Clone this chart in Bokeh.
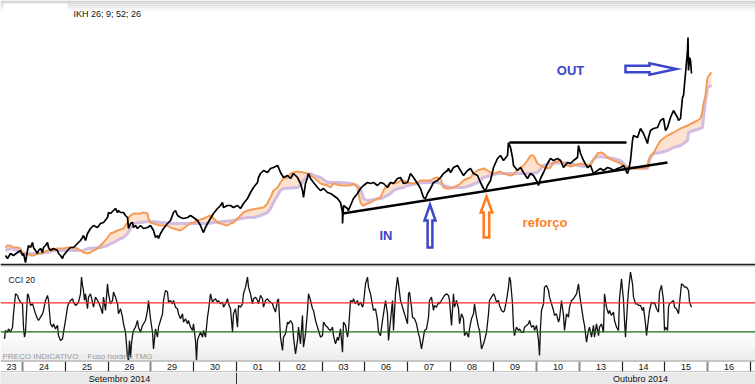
from bokeh.plotting import figure
from bokeh.layouts import column
from bokeh.models import Range1d, BoxAnnotation, Label, Span
from bokeh.embed import file_html
from bokeh.resources import INLINE

# ---------------- data (x = intraday bar index) ----------------
price_pts = [(5,8),(7,5),(10,10),(13,8),(17,11),(20,13),(22,8),(23,10),(25,1),(27,13),(28,18),(30,16),(32,21),(33,16),(35,13),(37,10),(38,13),(40,15),(42,11),(43,16),(45,18),(47,21),(48,16),(50,13),(53,15),(57,13),(58,10),(60,8),(62,5),(63,8),(67,13),(70,16),(73,16),(77,20),(80,23),(82,26),(83,28),(85,23),(87,30),(90,35),(93,38),(97,36),(100,40),(103,41),(107,46),(108,51),(110,50),(113,53),(115,55),(117,51),(118,53),(120,51),(123,51),(125,48),(127,46),(128,35),(130,40),(132,41),(133,36),(135,38),(137,35),(140,38),(143,35),(147,36),(150,38),(153,33),(155,26),(157,28),(158,25),(160,30),(163,35),(167,40),(170,43),(173,51),(175,53),(177,48),(180,46),(183,45),(187,46),(190,48),(193,46),(197,43),(200,38),(202,33),(203,31),(205,36),(207,40),(210,45),(213,50),(217,55),(220,58),(222,61),(223,56),(227,58),(230,58),(233,56),(237,58),(240,55),(243,60),(247,65),(250,71),(253,76),(257,81),(258,86),(260,90),(263,93),(267,91),(270,95),(273,96),(277,98),(278,96),(280,91),(283,86),(287,88),(290,85),(293,90),(297,86),(300,80),(302,73),(303,66),(305,80),(307,86),(308,90),(310,85),(313,81),(317,76),(320,73),(323,75),(327,71),(330,70),(333,68),(337,65),(340,61),
             (342,51),(342,40),(343,58),(347,55),(348,53),(350,58),(353,65),(357,70),(360,75),(363,78),(367,81),(370,80),(373,81),(377,78),(380,81),(383,80),(387,76),(390,81),(393,80),(397,85),(400,86),(403,80),(407,81),(410,90),(413,86),(417,80),(420,75),(423,66),(425,65),(427,70),(430,75),(433,81),(437,83),(440,86),(443,90),(447,93),(448,95),(450,91),(453,96),(457,98),(460,93),(463,88),(467,93),(470,95),(473,90),(477,88),(480,81),(483,75),(485,73),(487,78),(490,83),(493,96),(497,105),(500,108),(503,103),(507,108),(508,121),(510,116),(512,106),(513,98),(517,93),(520,96),(523,91),(527,85),(530,90),(533,88),(537,81),(538,78),(540,85),(543,91),(547,100),(550,105),(553,103),(557,105),(560,103),(563,96),(567,101),(570,100),(573,103),(577,106),(578,118),(580,110),(583,103),(587,96),(590,98),
             (593,90),(597,93),(600,95),(603,93),(607,96),(610,95),(613,93),(617,95),(620,96),(623,98),(627,90),(628,93),(630,103),(632,123),(633,128),(637,126),(640,135),(643,130),(647,120),(648,126),(650,133),(653,135),(657,136),(660,143),(663,145),(665,133),(667,136),(670,146),(673,153),(677,146),(678,143),(680,145),(682,166),(683,168),(685,190),(687,213),(687.5,226),(688,193),(689,206),(690,203),(691,190)]

span_a_pts = [(5,16),(7,18),(10,18),(13,16),(17,16),(20,15),(22,10),(23,8),(27,10),(30,8),(33,8),(37,10),(40,10),(43,11),(47,13),(50,15),(53,13),(57,15),(63,15),(67,16),(73,16),(77,15),(80,13),(83,11),(87,10),(90,11),(93,13),(97,15),(100,18),(103,21),(107,26),(110,30),(113,31),(117,33),(123,35),(127,41),(128,46),(130,48),(133,50),(140,50),(143,51),(147,50),(148,45),(150,41),(153,40),(160,38),(167,38),(170,36),(173,35),(180,33),(183,35),(187,38),(190,40),(193,41),(197,43),(203,45),(210,48),(213,45),(217,41),(220,40),(227,38),(230,40),(233,41),(237,45),(240,48),(243,51),(247,53),(257,55),(263,56),(267,60),(268,63),(270,66),(273,73),(277,76),(280,81),(283,85),(287,86),(290,90),(293,91),(297,92),(303,91),(307,90),(310,88),(313,86),(317,83),(320,80),(327,78),(330,76),(333,80),(340,78),(350,78),(353,80),(357,76),(358,70),(360,61),(362,58),(363,58),(367,60),(370,61),(377,65),(380,66),(383,73),(385,76),(387,78),(390,81),(393,80),(397,81),(400,83),(403,83),(407,81),(413,80),(417,81),(420,83),(430,83),(433,85),(437,86),(440,85),(443,76),(447,75),(450,75),(453,76),(457,78),(460,80),(463,83),(467,85),(470,86),(473,90),(477,93),(483,95),(487,93),(490,91),(493,90),(500,92),(503,90),(507,89),(510,88),(513,89),(517,94),(520,96),(523,98),(527,103),(530,108),(533,108),(537,100),(540,98),(547,95),(550,96),(553,101),(557,102),(560,103),(563,100),(567,98),(570,97),(577,99),(580,100),(587,98),(590,99),(593,104),(597,110),(600,111),(603,110),(607,106),(613,103),(620,100),(627,96),(633,95),(640,95),(647,96),(648,103),(650,108),(653,110),(657,118),(660,123),(667,128),(673,131),(680,135),(687,138),(693,141),(697,143),(700,145),(702,153),(703,160),(705,168),(707,186),(710,190),(711,191)]

span_b_pts = [(5,13),(10,15),(17,13),(20,11),(27,10),(40,10),(47,11),(53,13),(83,13),(87,15),(100,16),(107,18),(113,21),(120,25),(123,26),(127,30),(130,35),(133,40),(140,41),(147,42),(153,42),(160,41),(173,40),(207,40),(213,41),(233,43),(240,45),(247,46),(253,46),(260,48),(267,51),(270,55),(273,61),(277,68),(280,73),(283,75),(297,76),(300,78),(303,83),(307,88),(310,90),(313,88),(320,86),(327,81),(340,81),(350,80),(357,78),(360,75),(363,65),(367,63),(380,65),(383,66),(387,68),(390,70),(393,73),(397,75),(403,76),(407,78),(417,80),(423,81),(437,81),(440,80),(443,78),(450,76),(463,76),(470,78),(477,81),(483,86),(490,88),(497,90),(530,90),(537,91),(543,98),(550,100),(563,101),(570,100),(583,97),(590,99),(593,104),(597,107),(607,106),(613,105),(620,103),(627,96),(647,95),(648,100),(650,106),(653,110),(660,111),(667,113),(673,116),(680,118),(687,123),(688,131),(693,133),(700,135),(702,136),(703,146),(705,163),(707,176),(711,178)]

cci_pts = [(4,-149),(5,-91),(7,-103),(8,-80),(10,-103),(12,-68),(13,24),(15,162),(17,151),(18,128),(20,105),(22,93),(23,-68),(24,-137),(25,-103),(27,162),(28,151),(30,82),(32,93),(33,70),(35,24),(37,-10),(38,-22),(40,1),(42,24),(43,47),(45,116),(47,151),(48,116),(50,-45),(52,-68),(53,-45),(55,-80),(57,-56),(58,-126),(60,-160),(62,-149),(63,-103),(65,-22),(67,70),(68,93),(70,116),(72,128),(73,105),(75,82),(77,93),(78,105),(80,162),(81,277),(82,220),(83,185),(84,116),(85,162),(87,59),(88,139),(90,162),(92,105),(93,70),(95,139),(97,116),(98,105),(100,70),(102,24),(103,139),(105,47),(107,231),(108,162),(110,93),(112,116),(113,174),(115,139),(117,93),(118,24),(120,59),(122,1),(123,-45),(125,-103),(127,-275),(128,-298),(129,-160),(130,-275),(131,-183),(132,-126),(133,-91),(135,-68),(137,-22),(138,-68),(140,-103),(142,-56),(143,-45),(145,-22),(147,47),(148,116),(150,-10),(152,-103),(153,-218),(155,-80),(157,-137),(158,-68),(160,-22),(162,24),(163,116),(165,185),(167,174),(168,105),(170,116),(172,93),(173,116),(175,70),(177,59),(178,24),(180,-10),(182,24),(183,-33),(185,-10),(187,-45),(188,-22),(190,-68),(192,-91),(193,-45),(195,-160),(196,-298),(197,-160),(198,-137),(200,-103),(202,-137),(203,-91),(205,-137),(207,1),(208,47),(210,162),(212,105),(213,116),(215,128),(217,105),(218,116),(220,93),(222,105),(223,70),(225,93),(227,128),(228,93),(230,59),(232,-103),(233,24),(235,59),(237,-68),(238,82),(240,70),(242,93),(243,162),(245,208),(247,277),(248,208),(250,162),(252,93),(253,128),(255,139),(257,116),(258,93),(260,151),(262,128),(263,70),(265,116),(267,128),(268,116),(270,105),(272,93),(273,70),(275,36),(277,116),(278,128),(280,-137),(282,-229),(283,-137),(285,-114),(287,-33),(288,-45),(290,-22),(292,-45),(293,-137),(295,-252),(297,-160),(298,-68),(300,-183),(302,13),(303,-206),(305,-114),(307,47),(308,162),(310,116),(312,59),(313,47),(315,-22),(317,-68),(318,-91),(320,-137),(322,-126),(323,-33),(325,-56),(327,-68),(328,-80),(330,-91),(332,-68),(333,-126),(335,-183),(337,-137),(338,-160),(340,-80),(342,-241),(343,-33),(345,-56),(347,-137),(348,-91),(350,116),(352,105),(353,128),(355,93),(357,116),(358,82),(360,105),(362,70),(363,93),(365,231),(367,277),(368,208),(370,162),(372,82),(373,47),
           (375,59),(377,-22),(378,-103),(380,-126),(382,-22),(383,24),(385,116),(387,24),(388,-160),(390,-22),(392,116),(393,-91),(395,162),(397,277),(398,231),(400,116),(402,70),(403,47),(405,1),(407,-45),(408,162),(409,174),(411,70),(412,1),(414,-10),(416,-45),(418,-114),(419,-137),(421,-218),(423,-137),(424,-91),(426,-80),(428,1),(429,116),(431,139),(433,47),(434,82),(436,70),(438,105),(439,93),(441,116),(443,139),(444,151),(446,162),(448,151),(449,116),(451,-56),(453,162),(454,70),(456,116),(458,59),(459,-45),(461,24),(463,-10),(464,-126),(466,-103),(468,-137),(469,-80),(471,-10),(473,24),(474,93),(476,1),(478,-68),(479,-91),(481,-218),(483,-183),(484,-160),(486,-103),(488,24),(489,116),(491,139),(493,162),(494,151),(496,105),(498,116),(499,82),(501,47),(503,36),(504,47),(506,116),(508,208),(509,277),(510,254),(512,93),(513,-68),(514,-126),(516,-68),(518,-91),(519,-80),(521,-103),(523,-103),(524,-68),(526,-56),(528,-45),(529,-22),(531,-68),(533,-56),(534,-91),(536,-56),(538,-160),(539,-264),(540,-68),(541,47),(543,93),(544,208),(546,220),(548,185),(549,139),(551,93),(553,47),(554,13),(556,24),(558,-33),(559,-10),(561,116),(563,13),(564,-91),(566,24),(568,1),(569,70),(571,116),(573,128),(574,139),(576,162),(578,231),(579,162),(581,70),(583,-22),(584,-56),(586,-172),(588,-91),(589,-68),(591,-137),(593,-56),(594,-137),(596,-45),(598,-126),(599,-68),(601,-45),(603,-103),(604,162),(606,70),(608,24),(609,47),(611,13),(613,36),(614,-22),(616,-68),(618,-91),(619,128),(621,266),(623,116),(624,-22),(625,-137),(627,93),(628,185),(630,312),(632,231),(633,139),(635,93),(637,93),(638,82),(640,82),(642,47),(643,70),(645,-45),(646,-126),(648,-10),(649,47),(651,105),(653,93),(654,105),(656,59),(658,36),(659,174),(661,220),(663,116),(664,-91),(665,-68),(667,-91),(668,70),(669,93),(671,105),(673,116),(674,70),(676,59),(678,24),(679,93),(681,231),(683,220),(684,208),(686,208),(688,185),(689,105),(691,70)]

day_labels = ["23","24","25","26","29","30","01","02","03","06","07","08","09","10","13","14","15","16"]
day_bounds = [22, 65, 108, 150, 193, 236, 279, 322, 364, 407, 450, 493, 536, 579, 622, 664, 707, 750]
bound_soft = [True, False, False, True, False, False, False, False, False, False, False, False, True, True, False, False, True, False]
month_labels = ["Setembro 2014", "Outubro 2014"]
month_label_x = [119, 640]
month_bound = 236

cci_upper, cci_lower = 100, -100
support_line = ((342, 50), (667, 101))
resistance_line = ((509, 121), (626, 121))

# ---------------- style ----------------
W = 755
FONT = "Liberation Sans"
BLUE = "#3b46c8"
ORANGE_TXT = "#ff7f27"
SPAN_A = "#f49d58"
SPAN_B = "#d2bde0"
CLOUD = "#fde2cf"

xr = Range1d(0, W)


def base(h, y0, y1, bg="white"):
    p = figure(width=W, height=h, x_range=xr, y_range=Range1d(y0, y1),
               output_backend="svg", toolbar_location=None, min_border=0,
               x_axis_type=None, y_axis_type=None)
    p.grid.visible = False
    p.outline_line_color = None
    p.background_fill_color = bg
    p.border_fill_color = bg
    return p


def unzip(pts):
    return [a for a, _ in pts], [b for _, b in pts]


def arrow_poly(tail, tip, shaft, head, head_len):
    (x0, y0), (x1, y1) = tail, tip
    dx, dy = x1 - x0, y1 - y0
    L = (dx * dx + dy * dy) ** 0.5
    ux, uy = dx / L, dy / L
    px, py = -uy, ux
    nx, ny = x1 - ux * head_len, y1 - uy * head_len
    pts = [(x0 + px * shaft, y0 + py * shaft), (nx + px * shaft, ny + py * shaft),
           (nx + px * head, ny + py * head), (x1, y1),
           (nx - px * head, ny - py * head), (nx - px * shaft, ny - py * shaft),
           (x0 - px * shaft, y0 - py * shaft)]
    return [a for a, _ in pts], [b for _, b in pts]


# ---------------- price panel ----------------
p1 = base(263, 0, 263)
for top, bot, col in [(263, 261, "#d0d0d0"), (261, 259, "#dadada"), (259, 257, "#e3e3e3"),
                      (257, 255, "#ececec"), (255, 253, "#f5f5f5")]:
    p1.add_layout(BoxAnnotation(top=top, bottom=bot, fill_color=col, fill_alpha=1,
                                line_alpha=0, level="underlay"))
p1.add_layout(BoxAnnotation(left=3, right=67, top=260, bottom=252, fill_color="white",
                            fill_alpha=1, line_alpha=0, level="underlay"))
p1.add_layout(Label(x=73, y=249.5, text="IKH 26; 9; 52; 26", text_font=FONT,
                    text_font_size="9px", text_baseline="middle", text_color="#111111"))

ax, av = unzip(span_a_pts)
bx, bv = unzip(span_b_pts)
p1.patch(ax + bx[::-1], av + bv[::-1], fill_color=CLOUD, fill_alpha=1.0, line_color=None)
p1.line(bx, bv, line_color=SPAN_B, line_width=3)
p1.line(ax, av, line_color=SPAN_A, line_width=2)

cx, cv = unzip(price_pts)
p1.line(cx, cv, line_color="black", line_width=1.7)

for (xa, ya), (xb, yb) in [support_line, resistance_line]:
    p1.line([xa, xb], [ya, yb], line_color="black", line_width=2.4)

arrows = [((429.5, 16), (429.5, 59), 2.4, 5.5, 16, BLUE),
          ((486, 26), (486, 67), 2.8, 5.8, 16, "#ff7b22"),
          ((625, 194.5), (676, 194.5), 3.2, 5.8, 27, BLUE)]
for tail, tip, sw, hw, hl, col in arrows:
    xs, ys = arrow_poly(tail, tip, sw, hw, hl)
    p1.patch(xs, ys, fill_color="white", line_color=col, line_width=2.5, line_join="miter")

for x, y, t, col in [(570, 193, "OUT", BLUE), (385.5, 28, "IN", BLUE), (544.5, 41, "reforço", ORANGE_TXT)]:
    p1.add_layout(Label(x=x, y=y, text=t, text_font=FONT, text_font_size="13px",
                        text_font_style="bold", text_color=col, text_align="center",
                        text_baseline="middle"))

# ---------------- CCI panel ----------------
p2 = base(97, -298, 371)
for top, bot, col in [(-100, -160, "#fbfbfb"), (-160, -210, "#f7f7f7"),
                      (-210, -255, "#f2f2f2"), (-255, -298, "#ededed")]:
    p2.add_layout(BoxAnnotation(top=top, bottom=bot, fill_color=col, fill_alpha=1,
                                line_alpha=0, level="underlay"))
p2.add_layout(BoxAnnotation(top=371, bottom=357.2, fill_color="#1c1c1c", fill_alpha=1,
                            line_alpha=0))
p2.add_layout(BoxAnnotation(top=357.2, bottom=350.3, fill_color="#bdbdbd", fill_alpha=1,
                            line_alpha=0))
p2.add_layout(Span(location=cci_upper, dimension="width", line_color="#ff2a2a", line_width=1.2))
p2.add_layout(Span(location=cci_lower, dimension="width", line_color="#1a6e1a", line_width=1.2))
ix, iv = unzip(cci_pts)
p2.line(ix, iv, line_color="#111111", line_width=1.3)
p2.add_layout(Label(x=8, y=259, text="CCI 20", text_font=FONT, text_font_size="8.5px",
                    text_baseline="middle", text_color="#111111"))
p2.add_layout(Label(x=2, y=-268, text="PREÇO INDICATIVO", text_font=FONT,
                    text_font_size="8px", text_baseline="middle", text_color="#9a9a9a"))
p2.add_layout(Label(x=87, y=-268, text="Fuso horário TMG", text_font=FONT,
                    text_font_size="8px", text_baseline="middle", text_color="#9a9a9a"))

# ---------------- day axis ----------------
p3 = base(12, 0, 1)
p3.min_border_top = 1
p3.min_border_bottom = 1
p3.border_fill_color = "#1a1a1a"
edges = [0] + day_bounds
centers = [(a + b) / 2 for a, b in zip(edges[:-1], edges[1:])]
p3.segment(x0=[b for b, s in zip(day_bounds, bound_soft) if not s],
           x1=[b for b, s in zip(day_bounds, bound_soft) if not s],
           y0=0, y1=1, line_color="#222222", line_width=1.2)
p3.segment(x0=[b for b, s in zip(day_bounds, bound_soft) if s],
           x1=[b for b, s in zip(day_bounds, bound_soft) if s],
           y0=0, y1=1, line_color="#8a8a8a", line_width=2)
for c, t in zip(centers, day_labels):
    p3.add_layout(Label(x=c, y=0.5, text=t, text_font=FONT, text_font_size="9px",
                        text_align="center", text_baseline="middle", text_color="#111111"))

# ---------------- month axis ----------------
p4 = base(12, 0, 1, bg="#e9e9e9")
p4.segment(x0=[month_bound], x1=[month_bound], y0=0, y1=1, line_color="#333333", line_width=1)
for x, t in zip(month_label_x, month_labels):
    p4.add_layout(Label(x=x, y=0.5, text=t, text_font=FONT, text_font_size="9px",
                        text_align="center", text_baseline="middle", text_color="#111111"))

layout = column(p1, p2, p3, p4, spacing=0)
open("out.html", "w").write(file_html(layout, INLINE))
